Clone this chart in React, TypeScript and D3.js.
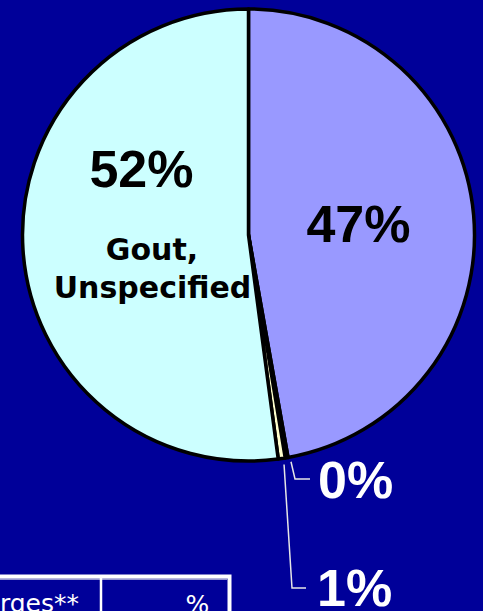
import React from "react";
import * as d3 from "d3";

const categories = ["Gout, Unspecified (47%)", "Other (0%)", "Minor (1%)", "Gout, Unspecified"];
const values = [47.2, 0.2, 0.5, 52.1];
const labels = ["47%", "0%", "1%", "52%"];
const colors = ["#9999FF", "#FFCCFF", "#FFFFCC", "#CCFFFF"];
const tableHeaders = ["Discharges**", "%"];

const W = 483;
const H = 611;
const cx = 248.5;
const cy = 235;
const R = 226;

export default function App() {
  const pie = d3.pie<number>().sort(null).value((d) => d);
  const arcs = pie(values);
  const arc = d3.arc<d3.PieArcDatum<number>>().innerRadius(0).outerRadius(R);
  const outerPt = (a: d3.PieArcDatum<number>, r: number) => {
    const m = (a.startAngle + a.endAngle) / 2;
    return [cx + r * Math.sin(m), cy - r * Math.cos(m)];
  };
  const p0 = outerPt(arcs[1], R + 2);
  const p1 = outerPt(arcs[2], R + 2);
  const line = d3.line();
  return (
    <svg width={W} height={H} style={{ position: "absolute", left: 0, top: 0, display: "block" }}>
      <rect x={0} y={0} width={W} height={H} fill="#000099" />
      <g transform={`translate(${cx},${cy})`}>
        {arcs.map((a, i) => (
          <path key={categories[i]} d={arc(a) || ""} fill={colors[i]} stroke="#000" strokeWidth={3.5} strokeLinejoin="round" />
        ))}
      </g>
      {/* leader lines */}
      <path d={line([[p0[0] + 4, p0[1] + 2], [295, 479], [310, 479]]) || ""} fill="none" stroke="#E6E6E6" strokeWidth={1.5} />
      <path d={line([[p1[0] + 2, p1[1] + 4], [292, 588], [306, 588]]) || ""} fill="none" stroke="#E6E6E6" strokeWidth={1.5} />
      {/* labels */}
      <g fontFamily="'Liberation Sans', Arial, sans-serif" fontWeight="bold" fontSize={52}>
        <text x={358.5} y={242} textAnchor="middle" fill="#000">{labels[0]}</text>
        <text x={141.5} y={187} textAnchor="middle" fill="#000">{labels[3]}</text>
        <text x={318} y={498} fill="#fff">{labels[1]}</text>
        <text x={317} y={606} fill="#fff">{labels[2]}</text>
      </g>
      <g fontFamily="'DejaVu Sans', Verdana, sans-serif" fontWeight="bold" fontSize={30} fill="#000" textAnchor="middle">
        <text x={152} y={260}>Gout,</text>
        <text x={152.5} y={298}>Unspecified</text>
      </g>
      {/* table */}
      <g>
        <rect x={-10} y={576.5} width={239.5} height={60} fill="none" stroke="#fff" strokeWidth={4} />
        <line x1={-10} x2={227} y1={579} y2={579} stroke="#C8C8E6" strokeWidth={1.5} />
        <line x1={101} x2={101} y1={578} y2={H} stroke="#fff" strokeWidth={2.5} />
        <g fontFamily="'DejaVu Sans', Verdana, sans-serif" fontSize={25} fill="#fff">
          <text x={79} y={612} textAnchor="end">{tableHeaders[0]}</text>
          <text x={197.5} y={613} textAnchor="middle">{tableHeaders[1]}</text>
        </g>
      </g>
    </svg>
  );
}
